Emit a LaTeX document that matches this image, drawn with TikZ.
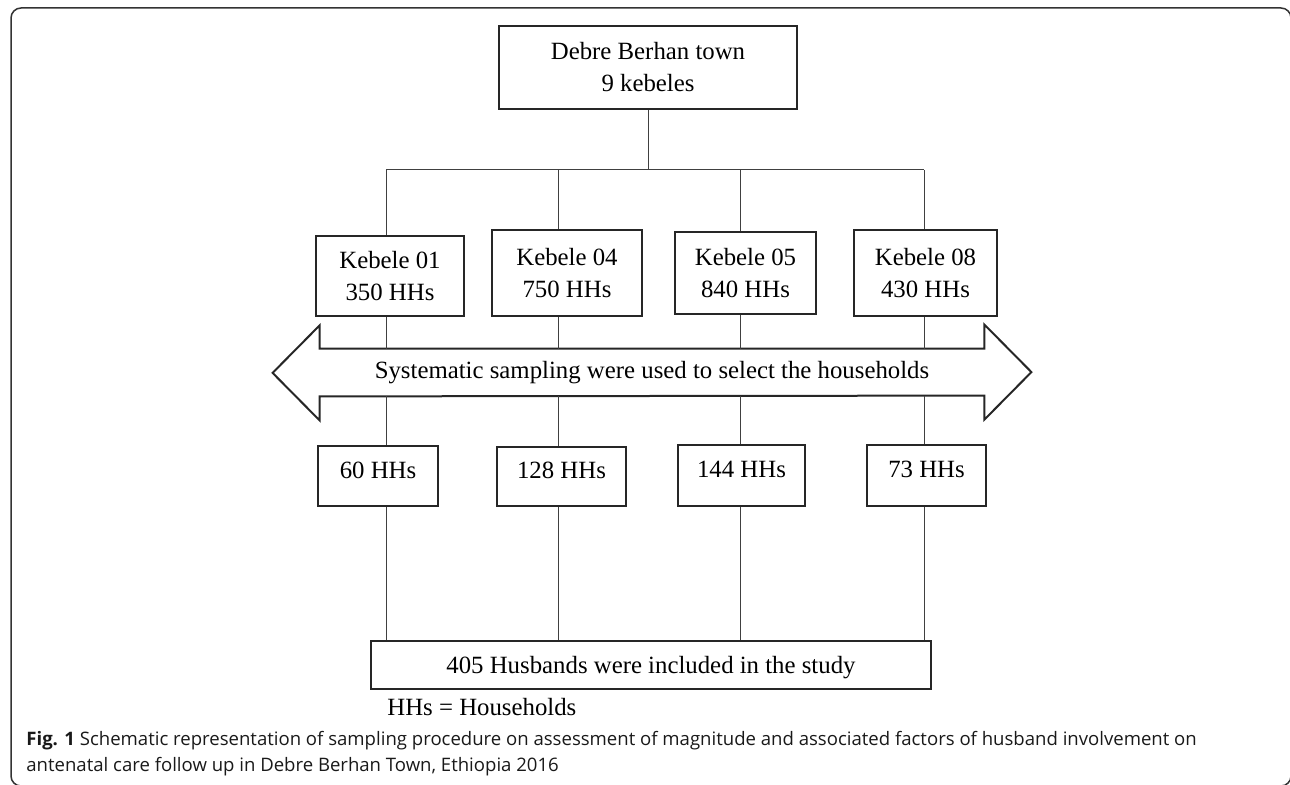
\documentclass[tikz,border=0pt]{standalone}
\usepackage{fontspec}
\setmainfont{Liberation Serif}
\newfontfamily\capfont{Open Sans}
\usepackage{tikz}

\tikzset{
    kbox/.style={draw=black!85, line width=1pt, align=center, inner sep=0pt},
    hhbox/.style={kbox, text depth=6pt},
    link/.style={draw=black!75, line width=0.5pt},
    arrowline/.style={draw=black!85, line width=1pt, line join=miter},
    captext/.style={anchor=base west, inner sep=0pt, text=black!90, font={\capfont\fontsize{9.28}{13}\selectfont}}
}

\begin{document}
\begin{tikzpicture}[x=0.5pt, y=-0.5pt, font={\fontsize{12.4}{16}\selectfont}]
    % Page and frame
    \clip (0,0) rectangle (1290,785);
    \draw[black!80, line width=0.75pt, rounded corners=5pt] (11,8) rectangle (1291,786);

    % Define boxes
    \node[kbox, minimum width=149pt, minimum height=41.5pt] (town) at (648,67.5) {Debre Berhan town\\9 kebeles};
    \node[kbox, minimum width=74pt, minimum height=40pt] (k01) at (390,276) {Kebele 01\\350 HHs};
    \node[kbox, minimum width=75pt, minimum height=43pt] (k04) at (567,273) {Kebele 04\\750 HHs};
    \node[kbox, minimum width=70.5pt, minimum height=41pt] (k05) at (745.5,273) {Kebele 05\\840 HHs};
    \node[kbox, minimum width=71.5pt, minimum height=43pt] (k08) at (925.5,273) {Kebele 08\\430 HHs};
    \node[minimum width=332pt, minimum height=23.5pt, inner sep=0pt] (samp) at (652,372.5) {Systematic sampling were used to select the households};
    \node[hhbox, minimum width=60pt, minimum height=30pt] (b1) at (378,476) {60 HHs};
    \node[hhbox, minimum width=64.5pt, minimum height=29.5pt] (b2) at (561.5,476.5) {128 HHs};
    \node[hhbox, minimum width=63.5pt, minimum height=30.5pt] (b3) at (741.5,475.5) {144 HHs};
    \node[hhbox, minimum width=59.5pt, minimum height=30.5pt] (b4) at (926.5,475.5) {73 HHs};
    \node[kbox, text height=11.5pt, text depth=2.7pt, minimum width=280pt, minimum height=24pt] (total) at (651,665) {405 Husbands were included in the study};
    \node[anchor=base west, inner sep=0pt] (key) at (387,715) {HHs = Households};

    % Double arrow round the sampling text
    \draw[arrowline] (samp.north west) -- (samp.north east) -- ++(0,-24) -- ++(47,47.5) -- ++(-47,47.5) -- ++(0,-24)
        -- (samp.south west) -- ++(0,24) -- ++(-47,-47.5) -- ++(47,-47.5) -- cycle;

    % Draw lines
    \coordinate (c1) at (386,170);
    \coordinate (c2) at (558,170);
    \coordinate (c3) at (740,170);
    \coordinate (c4) at (924,170);
    \draw[link] (town.south) -- (town.south |- c1);
    \draw[link] (c1) -- (c4);
    \draw[link] (c1) -- (c1 |- k01.north);
    \draw[link] (c2) -- (c2 |- k04.north);
    \draw[link] (c3) -- (c3 |- k05.north);
    \draw[link] (c4) -- (c4 |- k08.north);
    \draw[link] (c1 |- k01.south) -- (c1 |- samp.north);
    \draw[link] (c2 |- k04.south) -- (c2 |- samp.north);
    \draw[link] (c3 |- k05.south) -- (c3 |- samp.north);
    \draw[link] (c4 |- k08.south) -- (c4 |- samp.north);
    \draw[link] (c1 |- samp.south) -- (c1 |- b1.north);
    \draw[link] (c2 |- samp.south) -- (c2 |- b2.north);
    \draw[link] (c3 |- samp.south) -- (c3 |- b3.north);
    \draw[link] (c4 |- samp.south) -- (c4 |- b4.north);
    \draw[link] (c1 |- b1.south) -- (c1 |- total.north);
    \draw[link] (c2 |- b2.south) -- (c2 |- total.north);
    \draw[link] (c3 |- b3.south) -- (c3 |- total.north);
    \draw[link] (c4 |- b4.south) -- (c4 |- total.north);

    % Caption
    \node[captext] (cap) at (26,745) {\textbf{Fig. 1} Schematic representation of sampling procedure on assessment of magnitude and associated factors of husband involvement on};
    \node[captext] (capb) at (26,771) {antenatal care follow up in Debre Berhan Town, Ethiopia 2016};
\end{tikzpicture}
\end{document}
